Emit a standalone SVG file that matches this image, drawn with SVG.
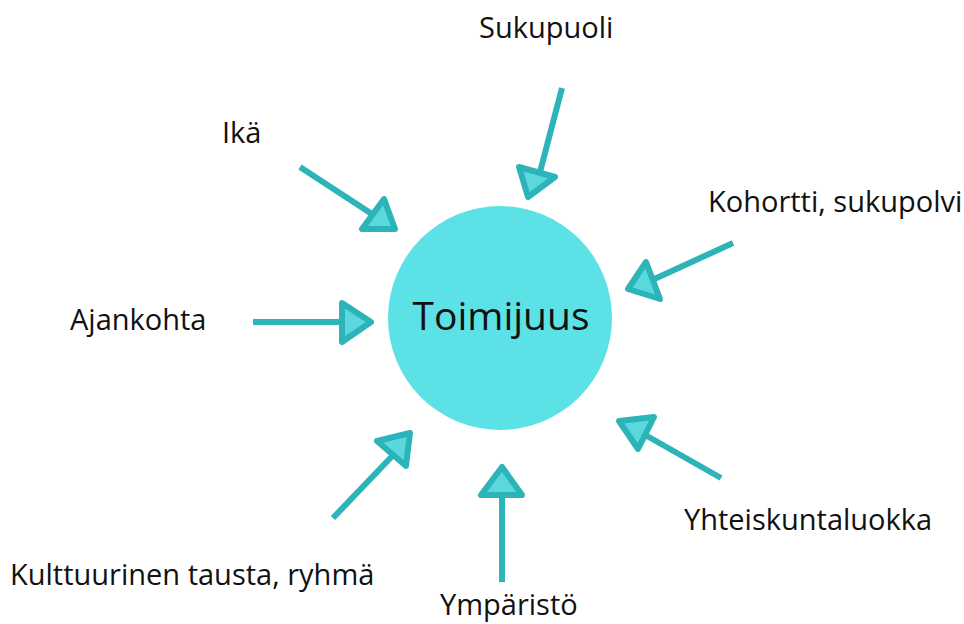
<svg xmlns="http://www.w3.org/2000/svg" width="964" height="624" viewBox="0 0 964 624">
<style>
.lbl{font-family:"Open Sans","Liberation Sans",sans-serif;font-size:29px;fill:#111}
.ctr{font-family:"Open Sans","Liberation Sans",sans-serif;font-size:39px;fill:#111;text-anchor:middle}
.ln{stroke:#2cb4b9;stroke-width:6;fill:none;stroke-linecap:butt}
.hd{stroke:#2cb4b9;stroke-width:6;fill:#5ad8de;stroke-linejoin:round}
</style>
<rect width="964" height="624" fill="#fff"/>
<g id="toimijuus">
<circle cx="500" cy="318" r="112" fill="#5ce1e6"/>
<text class="ctr" x="501" y="330">Toimijuus</text>
</g>
<g id="connectors">
<g id="c-sukupuoli"><line class="ln" x1="562" y1="88" x2="540" y2="172"/><polygon class="hd" points="519,167 555,177 528,197"/></g>
<g id="c-ika"><line class="ln" x1="300" y1="167" x2="375" y2="216"/><polygon class="hd" points="384,199 362,229 395,229"/></g>
<g id="c-kohortti"><line class="ln" x1="733" y1="243" x2="650" y2="281"/><polygon class="hd" points="646,262 628,289 660,299"/></g>
<g id="c-ajankohta"><line class="ln" x1="253" y1="322" x2="344" y2="322"/><polygon class="hd" points="342,303 371,322 342,342"/></g>
<g id="c-yhteis"><line class="ln" x1="721" y1="478" x2="640" y2="432"/><polygon class="hd" points="619,421 654,417 638,449"/></g>
<g id="c-kult"><line class="ln" x1="333" y1="518" x2="398" y2="450"/><polygon class="hd" points="377,441 410,433 406,466"/></g>
<g id="c-ymp"><line class="ln" x1="502" y1="582" x2="502" y2="492"/><polygon class="hd" points="502,467 481,495 522,495"/></g>
</g>
<g id="n-sukupuoli"><text class="lbl" x="479" y="38">Sukupuoli</text></g>
<g id="n-ika"><text class="lbl" x="222" y="143">Ikä</text></g>
<g id="n-kohortti"><text class="lbl" x="708" y="212">Kohortti, sukupolvi</text></g>
<g id="n-ajankohta"><text class="lbl" x="70" y="330">Ajankohta</text></g>
<g id="n-yhteis"><text class="lbl" x="684" y="530">Yhteiskuntaluokka</text></g>
<g id="n-kult"><text class="lbl" x="10" y="585">Kulttuurinen tausta, ryhmä</text></g>
<g id="n-ymp"><text class="lbl" x="440" y="615">Ympäristö</text></g>
</svg>
